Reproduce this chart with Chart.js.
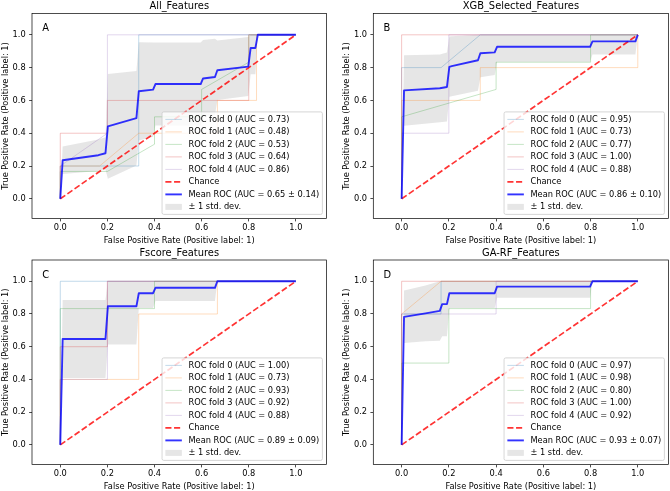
<!DOCTYPE html>
<html>
<head>
<meta charset="utf-8">
<script src="https://cdn.jsdelivr.net/npm/chart.js@4.4.0/dist/chart.umd.min.js"></script>
<style>
    body { margin: 0; background: #fff; width: 670px; height: 491px; overflow: hidden; position: relative; }
    canvas { position: absolute; }
</style>
</head>
<body>
<canvas id="cA" width="335" height="245" style="left:0px;top:0px"></canvas>
<canvas id="cB" width="329" height="245" style="left:341px;top:0px"></canvas>
<canvas id="cC" width="335" height="245" style="left:0px;top:246px"></canvas>
<canvas id="cD" width="329" height="245" style="left:341px;top:246px"></canvas>
<script>
// ---- data ----
const TICK_VALUES = [0, 0.2, 0.4, 0.6, 0.8, 1.0];
const TICK_LABELS = ['0.0', '0.2', '0.4', '0.6', '0.8', '1.0'];
const CHANCE_X = [0, 1];
const CHANCE_Y = [0, 1];

// All_Features
const A_FOLD_FPR = [
    [0, 0, 0.333, 0.333, 1],
    [0, 0, 0.167, 0.333, 0.667, 0.667, 0.833, 0.833, 1],
    [0, 0, 0.2, 0.4, 0.4, 0.6, 0.6, 0.8, 0.8, 1],
    [0, 0, 0.2, 0.2, 0.8, 0.8, 1],
    [0, 0, 0.2, 0.2, 1]
];
const A_FOLD_TPR = [
    [0, 0.2, 0.2, 1, 1],
    [0, 0.2, 0.2, 0.4, 0.4, 0.6, 0.6, 1, 1],
    [0, 0.167, 0.167, 0.333, 0.5, 0.5, 0.667, 0.833, 1, 1],
    [0, 0.4, 0.4, 0.6, 0.6, 1, 1],
    [0, 0.2, 0.4, 1, 1]
];
const A_FOLD_AUC = ['0.73', '0.48', '0.53', '0.64', '0.86'];
const A_MEAN_FPR = [0, 0.0101, 0.1616, 0.1919, 0.2020, 0.3232, 0.3333, 0.3939, 0.4040, 0.5960, 0.6061, 0.6566, 0.6667, 0.7980, 0.8081, 0.8283, 0.8384, 1];
const A_MEAN_TPR = [0, 0.235, 0.266, 0.278, 0.442, 0.492, 0.656, 0.666, 0.700, 0.700, 0.734, 0.743, 0.784, 0.806, 0.920, 0.920, 1, 1];
const A_UPPER = [0, 0.319, 0.361, 0.376, 0.761, 0.780, 0.955, 0.953, 0.953, 0.953, 0.969, 0.976, 0.966, 0.986, 1, 1, 1, 1];
const A_LOWER = [0, 0.152, 0.170, 0.179, 0.123, 0.203, 0.356, 0.379, 0.447, 0.447, 0.500, 0.510, 0.603, 0.627, 0.760, 0.760, 1, 1];
const A_MEAN_AUC = '0.65 ± 0.14';

// XGB_Selected_Features
const B_FOLD_FPR = [
    [0, 0, 0.167, 0.333, 1],
    [0, 0, 0.333, 0.333, 1, 1],
    [0, 0, 0.4, 0.4, 0.8, 0.8, 1],
    [0, 0, 1],
    [0, 0, 0.2, 0.2, 1]
];
const B_FOLD_TPR = [
    [0, 0.8, 0.8, 1, 1],
    [0, 0.6, 0.6, 0.8, 0.8, 1],
    [0, 0.5, 0.667, 0.833, 0.833, 1, 1],
    [0, 1, 1],
    [0, 0.4, 0.4, 1, 1]
];
const B_FOLD_AUC = ['0.95', '0.73', '0.77', '1.00', '0.88'];
const B_MEAN_FPR = [0, 0.0101, 0.1616, 0.1919, 0.2020, 0.2121, 0.3232, 0.3333, 0.3939, 0.4040, 0.7980, 0.8081, 0.9899, 1];
const B_MEAN_TPR = [0, 0.661, 0.674, 0.682, 0.805, 0.809, 0.845, 0.888, 0.893, 0.927, 0.927, 0.960, 0.960, 1];
const B_UPPER = [0, 0.876, 0.880, 0.892, 0.989, 0.992, 1, 1, 1, 1, 1, 1, 1, 1];
const B_LOWER = [0, 0.446, 0.467, 0.472, 0.622, 0.626, 0.659, 0.741, 0.755, 0.836, 0.836, 0.880, 0.880, 1];
const B_MEAN_AUC = '0.86 ± 0.10';

// Fscore_Features
const C_FOLD_FPR = [
    [0, 0, 1],
    [0, 0, 0.333, 0.333, 0.667, 0.667, 1],
    [0, 0, 0.4, 0.4, 1],
    [0, 0, 0.2, 0.2, 1],
    [0, 0, 0.2, 0.2, 1]
];
const C_FOLD_TPR = [
    [0, 1, 1],
    [0, 0.4, 0.4, 0.8, 0.8, 1, 1],
    [0, 0.833, 0.833, 1, 1],
    [0, 0.6, 0.6, 1, 1],
    [0, 0.4, 0.4, 1, 1]
];
const C_FOLD_AUC = ['1.00', '0.73', '0.93', '0.92', '0.88'];
const C_MEAN_FPR = [0, 0.0101, 0.1919, 0.2020, 0.3232, 0.3333, 0.3939, 0.4040, 0.6566, 0.6667, 1];
const C_MEAN_TPR = [0, 0.647, 0.647, 0.847, 0.847, 0.927, 0.927, 0.960, 0.960, 1, 1];
const C_UPPER = [0, 0.885, 0.885, 1, 1, 1, 1, 1, 1, 1, 1];
const C_LOWER = [0, 0.409, 0.409, 0.614, 0.614, 0.836, 0.836, 0.880, 0.880, 1, 1];
const C_MEAN_AUC = '0.89 ± 0.09';

// GA-RF_Features
const D_FOLD_FPR = [
    [0, 0, 0.167, 0.167, 1],
    [0, 0, 0.167, 1],
    [0, 0, 0.2, 0.2, 0.8, 0.8, 1],
    [0, 0, 1],
    [0, 0, 0.4, 0.4, 1]
];
const D_FOLD_TPR = [
    [0, 0.8, 0.8, 1, 1],
    [0, 0.8, 1, 1],
    [0, 0.5, 0.5, 0.833, 0.833, 1, 1],
    [0, 1, 1],
    [0, 0.8, 0.8, 1, 1]
];
const D_FOLD_AUC = ['0.97', '0.98', '0.80', '1.00', '0.92'];
const D_MEAN_FPR = [0, 0.0101, 0.1010, 0.1616, 0.1717, 0.1919, 0.2020, 0.3939, 0.4040, 0.7980, 0.8081, 1];
const D_MEAN_TPR = [0, 0.782, 0.804, 0.819, 0.860, 0.860, 0.927, 0.927, 0.967, 0.967, 1, 1];
const D_UPPER = [0, 0.943, 0.974, 1, 1, 1, 1, 1, 1, 1, 1, 1];
const D_LOWER = [0, 0.622, 0.634, 0.637, 0.664, 0.664, 0.836, 0.836, 0.900, 0.900, 1, 1];
const D_MEAN_AUC = '0.93 ± 0.07';

// ---- styling ----
const FONT = 'DejaVu Sans';
const FOLD_COLORS = ['rgba(31,119,180,0.3)', 'rgba(255,127,14,0.3)', 'rgba(44,160,44,0.3)', 'rgba(214,39,40,0.3)', 'rgba(148,103,189,0.3)'];
const CHANCE_COLOR = 'rgba(255,0,0,0.8)';
const MEAN_COLOR = 'rgba(0,0,255,0.8)';
const BAND_COLOR = 'rgba(128,128,128,0.2)';

function pts(xs, ys) {
    return xs.map((x, i) => ({ x: x, y: ys[i] }));
}

// spines, title, panel letter and matplotlib-like legend
const rocDecor = {
    id: 'rocDecor',
    afterDatasetsDraw(chart, args, opts) {
        const ctx = chart.ctx;
        const a = chart.chartArea;
        ctx.save();
        ctx.strokeStyle = '#000';
        ctx.lineWidth = 0.7;
        ctx.strokeRect(a.left, a.top, a.right - a.left, a.bottom - a.top);

        ctx.fillStyle = '#000';
        ctx.font = '9.9px "' + FONT + '"';
        ctx.textAlign = 'left';
        ctx.textBaseline = 'alphabetic';
        ctx.fillText(opts.letter, a.left + 10.3, a.top + 17.8);
        ctx.textAlign = 'center';
        ctx.textBaseline = 'middle';
        ctx.fillText(opts.title, (a.left + a.right) / 2, a.top - 7);

        // legend
        const fs = 8.25, pad = 3.3, hl = 16.5, htp = 6.6, rowH = 12.5;
        ctx.font = fs + 'px "' + FONT + '"';
        const items = opts.items;
        const tw = Math.max(...items.map(it => ctx.measureText(it.text).width));
        const w = pad * 2 + hl + htp + tw;
        const h = pad * 2 + rowH * items.length - 4.1;
        const x0 = a.right - 4.1 - w;
        const y0 = a.bottom - 4.1 - h;
        ctx.beginPath();
        ctx.roundRect(x0, y0, w, h, 1.7);
        ctx.fillStyle = 'rgba(255,255,255,0.8)';
        ctx.fill();
        ctx.strokeStyle = '#cccccc';
        ctx.lineWidth = 0.8;
        ctx.stroke();

        items.forEach((it, i) => {
            const cy = y0 + pad + 4.2 + i * rowH;
            if (it.patch) {
                ctx.fillStyle = it.color;
                ctx.fillRect(x0 + pad, cy - 3, hl, 6);
            } else {
                ctx.beginPath();
                ctx.setLineDash(it.dash || []);
                ctx.strokeStyle = it.color;
                ctx.lineWidth = it.width;
                ctx.moveTo(x0 + pad, cy);
                ctx.lineTo(x0 + pad + hl, cy);
                ctx.stroke();
                ctx.setLineDash([]);
            }
            ctx.fillStyle = '#000';
            ctx.textAlign = 'left';
            ctx.textBaseline = 'middle';
            ctx.fillText(it.text, x0 + pad + hl + htp, cy);
        });
        ctx.restore();
    }
};

function makePanel(id, title, letter, foldFpr, foldTpr, foldAuc, meanFpr, meanTpr, upper, lower, meanAuc, yAxisW, padRight, titleH) {
    const datasets = [];
    datasets.push({ data: pts(meanFpr, lower), borderWidth: 0, pointRadius: 0, fill: false, order: 30 });
    datasets.push({ data: pts(meanFpr, upper), borderWidth: 0, pointRadius: 0, fill: '-1', backgroundColor: BAND_COLOR, order: 29 });
    foldFpr.forEach((fx, i) => {
        datasets.push({
            data: pts(fx, foldTpr[i]),
            borderColor: FOLD_COLORS[i],
            borderWidth: 0.9,
            pointRadius: 0,
            fill: false,
            order: 20 - i
        });
    });
    datasets.push({
        data: pts(CHANCE_X, CHANCE_Y),
        borderColor: CHANCE_COLOR,
        borderWidth: 1.7,
        borderDash: [6.1, 2.6],
        pointRadius: 0,
        fill: false,
        order: 2
    });
    datasets.push({
        data: pts(meanFpr, meanTpr),
        borderColor: MEAN_COLOR,
        borderWidth: 1.9,
        borderJoinStyle: 'round',
        pointRadius: 0,
        fill: false,
        order: 1
    });

    const items = foldAuc.map((auc, i) => ({ text: 'ROC fold ' + i + ' (AUC = ' + auc + ')', color: FOLD_COLORS[i], width: 0.9 }));
    items.push({ text: 'Chance', color: CHANCE_COLOR, width: 1.7, dash: [6.1, 2.6] });
    items.push({ text: 'Mean ROC (AUC = ' + meanAuc + ')', color: MEAN_COLOR, width: 1.9 });
    items.push({ text: '± 1 std. dev.', color: BAND_COLOR, patch: true });

    const tickFont = { family: FONT, size: 8.25 };
    const grid = { drawOnChartArea: false, drawTicks: true, tickLength: 2.9, color: '#000', lineWidth: 0.7 };

    new Chart(document.getElementById(id), {
        type: 'line',
        data: { datasets: datasets },
        plugins: [rocDecor],
        options: {
            responsive: false,
            animation: false,
            events: [],
            layout: { padding: { left: 0, right: padRight, top: titleH, bottom: 0 } },
            plugins: {
                legend: { display: false },
                tooltip: { enabled: false },
                filler: { drawTime: 'beforeDatasetsDraw' },
                rocDecor: { title: title, letter: letter, items: items }
            },
            scales: {
                x: {
                    type: 'linear', min: -0.12, max: 1.13,
                    afterBuildTicks: s => { s.ticks = TICK_VALUES.map(v => ({ value: v })); },
                    afterFit: s => { s.height = 26.5; },
                    ticks: { callback: (v, i) => TICK_LABELS[i], font: tickFont, color: '#000', padding: 2, maxRotation: 0, autoSkip: false },
                    grid: grid,
                    border: { display: false },
                    title: { display: true, text: 'False Positive Rate (Positive label: 1)', font: tickFont, color: '#000', padding: { top: 0, bottom: -1 } }
                },
                y: {
                    type: 'linear', min: -0.12, max: 1.13,
                    afterBuildTicks: s => { s.ticks = TICK_VALUES.map(v => ({ value: v })); },
                    afterFit: s => { s.width = yAxisW; },
                    ticks: { callback: (v, i) => TICK_LABELS[i], font: tickFont, color: '#000', padding: 3.4, autoSkip: false },
                    grid: grid,
                    border: { display: false },
                    title: { display: true, text: 'True Positive Rate (Positive label: 1)', font: tickFont, color: '#000', padding: { top: 1, bottom: 0 } }
                }
            }
        }
    });
}

makePanel('cA', 'All_Features', 'A', A_FOLD_FPR, A_FOLD_TPR, A_FOLD_AUC, A_MEAN_FPR, A_MEAN_TPR, A_UPPER, A_LOWER, A_MEAN_AUC, 32, 8.5, 13.5);
makePanel('cB', 'XGB_Selected_Features', 'B', B_FOLD_FPR, B_FOLD_TPR, B_FOLD_AUC, B_MEAN_FPR, B_MEAN_TPR, B_UPPER, B_LOWER, B_MEAN_AUC, 32.3, 1.5, 13.5);
makePanel('cC', 'Fscore_Features', 'C', C_FOLD_FPR, C_FOLD_TPR, C_FOLD_AUC, C_MEAN_FPR, C_MEAN_TPR, C_UPPER, C_LOWER, C_MEAN_AUC, 32, 8.5, 14);
makePanel('cD', 'GA-RF_Features', 'D', D_FOLD_FPR, D_FOLD_TPR, D_FOLD_AUC, D_MEAN_FPR, D_MEAN_TPR, D_UPPER, D_LOWER, D_MEAN_AUC, 32.3, 1.5, 14);
</script>
</body>
</html>
